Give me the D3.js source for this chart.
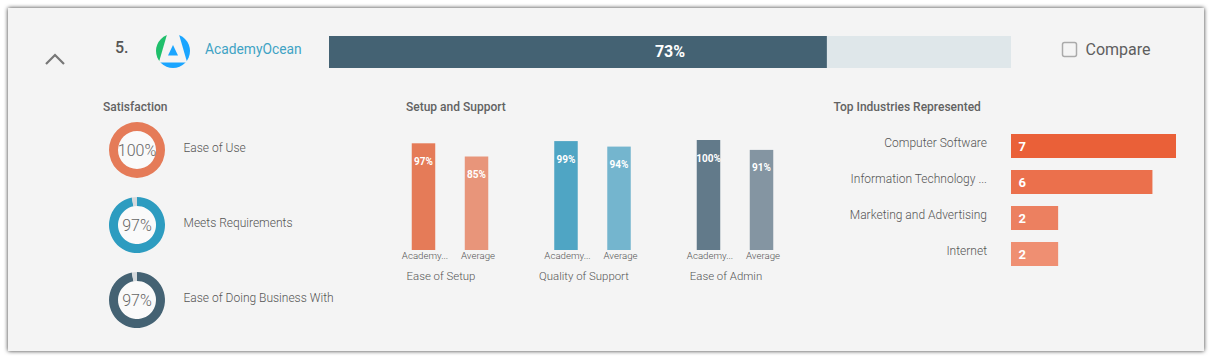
<!DOCTYPE html>
<html>
<head>
<meta charset="utf-8">
<script src="https://cdn.jsdelivr.net/npm/d3@7"></script>
<style>
  html, body { margin: 0; padding: 0; background: #fff; overflow: hidden; }
  text { font-family: Roboto, sans-serif; }
  .light { font-weight: 300; fill: #555; }
  .heading { font-weight: 500; font-size: 12px; fill: #626262; }
  .axis text { font-family: Roboto, sans-serif; font-weight: 300; font-size: 9.7px; fill: #555; }
</style>
</head>
<body>
<svg id="chart" width="1212" height="359"></svg>
<script>
const productName = "AcademyOcean";
const rank = "5.";
const overallScore = 73;

const satisfactionLabels = ["Ease of Use", "Meets Requirements", "Ease of Doing Business With"];
const satisfactionValues = [100, 97, 97];
const satisfactionColors = ["#e57b58", "#2d9cc0", "#446273"];

const setupGroups = ["Ease of Setup", "Quality of Support", "Ease of Admin"];
const setupSeries = ["AcademyOcean", "Average"];
const setupTickLabels = ["Academy...", "Average"];
const productScores = [97, 99, 100];
const averageScores = [85, 94, 91];
const setupColors = [["#e57b58", "#e8957a"], ["#4fa5c4", "#74b5ce"], ["#627a8a", "#8495a2"]];

const industries = ["Computer Software", "Information Technology ...", "Marketing and Advertising", "Internet"];
const industryCounts = [7, 6, 2, 2];
const industryColors = ["#ea6038", "#eb704c", "#ec8060", "#ef8f72"];

const svg = d3.select("#chart");

// Panel shadow
const defs = svg.append("defs");
const shadow = defs.append("filter").attr("id", "shadow")
    .attr("x", "-2%").attr("y", "-5%").attr("width", "104%").attr("height", "110%");
shadow.append("feDropShadow")
    .attr("dx", 0).attr("dy", 0).attr("stdDeviation", 2)
    .attr("flood-color", "#000").attr("flood-opacity", 0.8);

svg.append("rect")
    .attr("x", 8).attr("y", 8).attr("width", 1196).attr("height", 343)
    .attr("fill", "#f4f4f4")
    .attr("filter", "url(#shadow)");

// Header row
const chevron = d3.line();
svg.append("path")
    .attr("d", chevron([[46, 64], [55, 55], [64, 64]]))
    .attr("fill", "none").attr("stroke", "#777").attr("stroke-width", 2.2);

svg.append("text").attr("x", 115).attr("y", 53)
    .attr("font-size", 16).attr("font-weight", 500).attr("fill", "#555")
    .text(rank);

drawLogo(svg.append("g").attr("transform", "translate(173,51)"));

svg.append("text").attr("x", 205).attr("y", 54)
    .attr("font-size", 13.8).attr("font-weight", 400).attr("fill", "#3fa3c4")
    .text(productName);

const scoreX = d3.scaleLinear().domain([0, 100]).range([329, 1011]);

svg.append("rect")
    .attr("x", scoreX(0)).attr("y", 36)
    .attr("width", scoreX(100) - scoreX(0)).attr("height", 32)
    .attr("fill", "#dfe7ea");
svg.append("rect")
    .attr("x", scoreX(0)).attr("y", 36)
    .attr("width", scoreX(overallScore) - scoreX(0)).attr("height", 32)
    .attr("fill", "#446273");
svg.append("text")
    .attr("x", (scoreX(0) + scoreX(100)) / 2).attr("y", 57)
    .attr("text-anchor", "middle")
    .attr("font-size", 16).attr("font-weight", 700).attr("fill", "#fff")
    .text(overallScore + "%");

svg.append("rect")
    .attr("x", 1062.5).attr("y", 42.5).attr("width", 14).attr("height", 14).attr("rx", 2)
    .attr("fill", "none").attr("stroke", "#aaa").attr("stroke-width", 1.5);
svg.append("text").attr("x", 1085.5).attr("y", 55)
    .attr("font-size", 16).attr("font-weight", 400).attr("fill", "#5e5e5e")
    .text("Compare");

// Section headings
[["Satisfaction", 103], ["Setup and Support", 406], ["Top Industries Represented", 833.5]].forEach(function(h) {
    svg.append("text").attr("class", "heading").attr("x", h[1]).attr("y", 111).text(h[0]);
});

/**
 * Small logo: a circle cut into a green side, a blue side, a blue foot and a blue triangle
 * @param {*} g group centered on the logo
 */
function drawLogo(g) {
    defs.append("clipPath").attr("id", "logoClip")
        .append("circle").attr("r", 17);
    const clipped = g.append("g").attr("clip-path", "url(#logoClip)");
    const shape = d3.line();
    clipped.append("path").attr("fill", "#1fbf6b")
        .attr("d", shape([[-20, -20], [-5, -20], [-14, 11], [-20, 11]]));
    clipped.append("path").attr("fill", "#1aa5ff")
        .attr("d", shape([[20, -20], [5, -20], [14, 11], [20, 11]]));
    clipped.append("path").attr("fill", "#1aa5ff")
        .attr("d", shape([[-20, 11.5], [20, 11.5], [20, 20], [-20, 20]]));
    g.append("path").attr("fill", "#1aa5ff")
        .attr("d", shape([[0, -6], [5, 4.5], [-5, 4.5]]));
}

// Satisfaction donuts
const donutY = d3.scalePoint().domain(satisfactionLabels).range([150, 300]);
const donutArc = d3.arc().innerRadius(19).outerRadius(28);
const donutPie = d3.pie().sort(null);

satisfactionLabels.forEach(function(label, i) {
    const value = satisfactionValues[i];
    const g = svg.append("g").attr("transform", "translate(137," + donutY(label) + ")");

    g.append("circle").attr("r", 19).attr("fill", "#fafafa");
    g.selectAll("path")
        .data(donutPie([value, 100 - value]))
        .enter().append("path")
        .attr("d", donutArc)
        .attr("fill", function(d, j) { return j == 0 ? satisfactionColors[i] : "#d5d9dc"; });

    g.append("text").attr("y", 5.5)
        .attr("text-anchor", "middle")
        .attr("class", "light").attr("font-size", 16)
        .style("fill", "#666")
        .text(value + "%");

    svg.append("text").attr("class", "light")
        .attr("x", 183.5).attr("y", donutY(label) + 1.5)
        .attr("font-size", 12)
        .text(label);
});

// Setup and Support bars
const groupX = d3.scalePoint().domain(setupGroups).range([450, 735]);
const barX = d3.scaleBand().domain(setupSeries).range([-53, 53]).paddingInner(0.557).paddingOuter(0.278);
const barY = d3.scaleLinear().domain([0, 100]).range([250, 140]);
const groupLabelX = [441, 584, 726];

setupGroups.forEach(function(group, i) {
    const values = [productScores[i], averageScores[i]];
    const g = svg.append("g").attr("transform", "translate(" + groupX(group) + ",0)");

    g.selectAll("rect")
        .data(values)
        .enter().append("rect")
        .attr("x", function(d, j) { return barX(setupSeries[j]); })
        .attr("y", function(d) { return barY(d); })
        .attr("width", barX.bandwidth())
        .attr("height", function(d) { return barY(0) - barY(d); })
        .attr("fill", function(d, j) { return setupColors[i][j]; });

    g.selectAll(".barValue")
        .data(values)
        .enter().append("text")
        .attr("class", "barValue")
        .attr("x", function(d, j) { return barX(setupSeries[j]) + barX.bandwidth() / 2; })
        .attr("y", function(d) { return barY(d) + 21.5; })
        .attr("text-anchor", "middle")
        .attr("font-size", 10).attr("font-weight", 700).attr("fill", "#fff")
        .text(function(d) { return d + "%"; });

    const axis = d3.axisBottom(barX).tickSize(0).tickPadding(2)
        .tickFormat(function(d, j) { return setupTickLabels[j]; });
    const axisG = g.append("g").attr("class", "axis")
        .attr("transform", "translate(0,250)")
        .call(axis);
    axisG.select(".domain").remove();
    axisG.selectAll("text").attr("dx", 1.5);

    svg.append("text").attr("class", "light")
        .attr("x", groupLabelX[i]).attr("y", 280)
        .attr("text-anchor", "middle").attr("font-size", 11.4)
        .text(group);
});

// Top industries
const industryX = d3.scaleLinear().domain([0, 7]).range([1011, 1176]);
const industryY = d3.scaleBand().domain(industries).range([134, 266]).paddingInner(1 / 3);

svg.selectAll(".industryBar")
    .data(industryCounts)
    .enter().append("rect")
    .attr("class", "industryBar")
    .attr("x", industryX(0))
    .attr("y", function(d, i) { return industryY(industries[i]); })
    .attr("width", function(d) { return industryX(d) - industryX(0); })
    .attr("height", industryY.bandwidth())
    .attr("fill", function(d, i) { return industryColors[i]; });

svg.selectAll(".industryValue")
    .data(industryCounts)
    .enter().append("text")
    .attr("class", "industryValue")
    .attr("x", industryX(0) + 7.5)
    .attr("y", function(d, i) { return industryY(industries[i]) + 16.5; })
    .attr("font-size", 13).attr("font-weight", 700).attr("fill", "#fff")
    .text(function(d) { return d; });

svg.selectAll(".industryLabel")
    .data(industries)
    .enter().append("text")
    .attr("class", "industryLabel light")
    .attr("x", 987)
    .attr("y", function(d) { return industryY(d) + 13; })
    .attr("text-anchor", "end")
    .attr("font-size", 12)
    .text(function(d) { return d; });
</script>
</body>
</html>
